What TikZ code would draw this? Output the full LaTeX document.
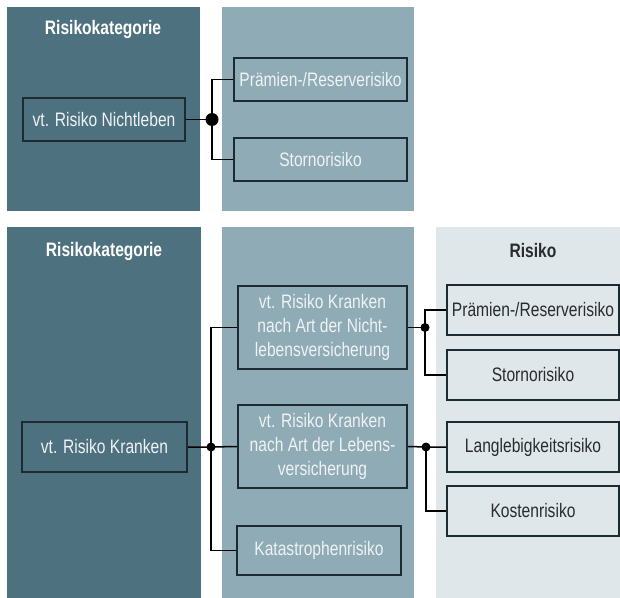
\documentclass[tikz,border=0pt]{standalone}
\usepackage{fontspec}
\setmainfont{Liberation Sans}[FakeStretch=0.8]
\definecolor{darkpanel}{HTML}{4E7180}
\definecolor{midpanel}{HTML}{8FABB6}
\definecolor{lightpanel}{HTML}{DFE7EB}
\definecolor{boxline}{HTML}{1C2B31}
\definecolor{lighttext}{HTML}{EEF3F5}
\definecolor{darktext}{HTML}{2B2B2B}
\tikzset{
  title/.style={font=\fontsize{19.5bp}{24bp}\selectfont\bfseries, inner sep=0pt},
  rbox/.style={draw=boxline, line width=2bp, inner sep=0pt, align=center,
     font=\fontsize{19.5bp}{24bp}\selectfont},
  onDark/.style={rbox, fill=darkpanel, text=lighttext},
  onMid/.style={rbox, fill=midpanel, text=lighttext},
  onLight/.style={rbox, fill=lightpanel, text=darktext},
  conn/.style={draw=black, line width=1.5bp},
  bigdot/.style={circle, fill=black, inner sep=0pt, minimum size=13bp},
  smalldot/.style={circle, fill=black, inner sep=0pt, minimum size=9bp},
}
\begin{document}
\begin{tikzpicture}[x=1bp, y=-1bp]
\useasboundingbox[fill=white] (0,0) rectangle (620,598);
% panels top
\fill[darkpanel] (7,7) rectangle (200,211);
\fill[midpanel] (222,7) rectangle (414,211);
% panels bottom
\fill[darkpanel] (7,227) rectangle (201,598);
\fill[midpanel] (222,227) rectangle (414,598);
\fill[lightpanel] (436,227) rectangle (620,598);

% top part
\node[title, text=white] (t1) at (103,30) {Risikokategorie};
\node[onDark, minimum width=162bp, minimum height=43bp] (n1) at (104,119.5) {vt. Risiko Nichtleben};
\node[onMid, minimum width=173bp, minimum height=43bp] (p1) at (320.5,79.5) {Prämien-/Reserverisiko};
\node[onMid, minimum width=173bp, minimum height=43bp] (s1) at (320.5,159.5) {Stornorisiko};
\node[bigdot] (d0) at (212,119.5) {};
\draw[conn] (n1.east) -- (d0.center);
\draw[conn] (p1.west) -| (d0.center) |- (s1.west);

% bottom part
\node[title, text=white] (t2) at (104,251) {Risikokategorie};
\node[title, text=darktext] (t3) at (533,251) {Risiko};
\node[onDark, minimum width=165bp, minimum height=50bp] (k) at (104.5,447) {vt. Risiko Kranken};
\node[onMid, minimum width=169bp, minimum height=83bp] (nl) at (322.5,327.5) {vt. Risiko Kranken\\nach Art der Nicht-\\lebensversicherung};
\node[onMid, minimum width=169bp, minimum height=83bp] (lb) at (322.5,446.5) {vt. Risiko Kranken\\nach Art der Lebens-\\versicherung};
\node[onMid, minimum width=164bp, minimum height=49bp] (kat) at (319,550.5) {Katastrophenrisiko};
\node[onLight, minimum width=172bp, minimum height=50bp] (pr2) at (533,310) {Prämien-/Reserverisiko};
\node[onLight, minimum width=172bp, minimum height=50bp] (st2) at (533,375) {Stornorisiko};
\node[onLight, minimum width=172bp, minimum height=50bp] (ll) at (533,447) {Langlebigkeitsrisiko};
\node[onLight, minimum width=172bp, minimum height=50bp] (ko) at (533,511) {Kostenrisiko};

\node[smalldot] (d1) at (211,447) {};
\node[smalldot] (d2) at (425,327.5) {};
\node[smalldot] (d3) at (426,447) {};

\draw[conn] (k.east) -- (d1.center) -- (lb.west);
\draw[conn] (nl.west) -| (d1.center) |- (kat.west);
\draw[conn] (nl.east) -- (d2.center);
\draw[conn] (pr2.west) -| (d2.center) |- (st2.west);
\draw[conn] (lb.east) -- (d3.center) -- (ll.west);
\draw[conn] (d3.center) |- (ko.west);
\end{tikzpicture}
\end{document}
